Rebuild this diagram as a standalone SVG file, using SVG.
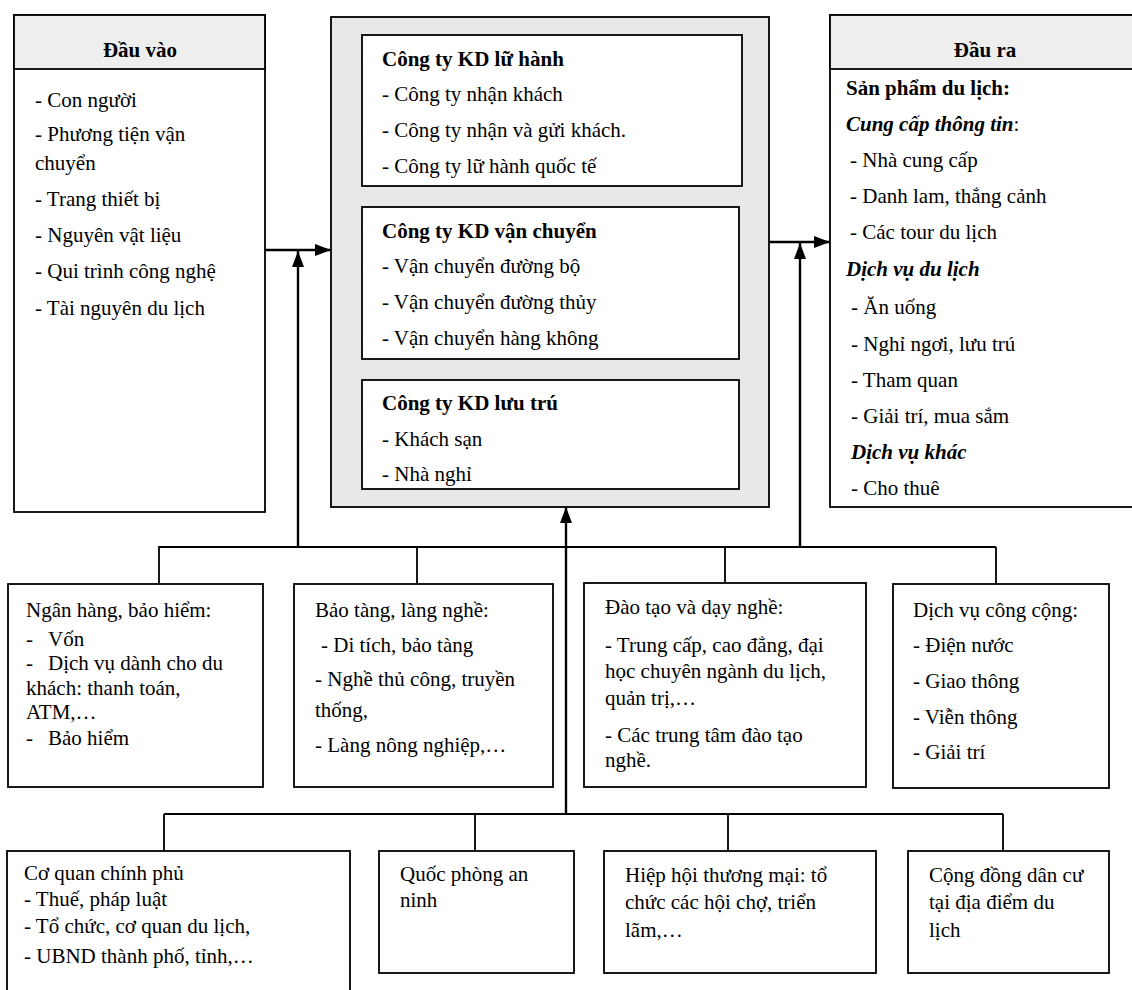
<svg xmlns="http://www.w3.org/2000/svg" width="1132" height="990" viewBox="0 0 1132 990">
<style>
text{font-family:"Liberation Serif","Times New Roman",serif;font-size:21px;fill:#000}
.b{font-weight:bold}
.bi{font-weight:bold;font-style:italic}
.c{text-anchor:middle}
.box{fill:#fff;stroke:#000;stroke-width:1.8}
.hdr{fill:#eeeeee;stroke:#000;stroke-width:1.8}
.gray{fill:#e8e8e8;stroke:#000;stroke-width:1.8}
.ln{fill:none;stroke:#000;stroke-width:1.8}
.ar{fill:none;stroke:#000;stroke-width:2.4;marker-end:url(#ah)}
</style>
<defs>
<marker id="ah" viewBox="0 0 16 12" refX="16" refY="6" markerWidth="16" markerHeight="12" markerUnits="userSpaceOnUse" orient="auto">
<path d="M0,0 L16,6 L0,12 z" fill="#000"/>
</marker>
</defs>
<rect width="1132" height="990" fill="#fff"/>

<g id="connectors">
<path class="ln" d="M158,547 H996 M159,547 V584 M417,547 V584 M725,547 V583 M996,547 V584"/>
<path class="ln" d="M164,814 H1003 M164,814 V851 M475,814 V851 M728,814 V851 M1003,814 V851"/>
<path class="ar" d="M265,250 H331"/>
<path class="ar" d="M298,547 V251"/>
<path class="ar" d="M769,242 H830"/>
<path class="ar" d="M800,547 V243"/>
<path class="ar" d="M566,814 V507"/>
</g>

<g id="dau-vao">
<rect class="box" x="14" y="15" width="251" height="497"/>
<rect class="hdr" x="14" y="15" width="251" height="54"/>
<text class="b c" x="140" y="57">Đầu vào</text>
<text x="35" y="107">- Con người</text>
<text x="35" y="141">- Phương tiện vận</text>
<text x="35" y="170">chuyển</text>
<text x="35" y="206">- Trang thiết bị</text>
<text x="35" y="242">- Nguyên vật liệu</text>
<text x="35" y="278">- Qui trình công nghệ</text>
<text x="35" y="315">- Tài nguyên du lịch</text>
</g>

<g id="trung-tam">
<rect class="gray" x="331" y="17" width="438" height="490"/>
</g>

<g id="kd-lu-hanh">
<rect class="box" x="362" y="35" width="380" height="151"/>
<text class="b" x="382" y="66">Công ty KD lữ hành</text>
<text x="382" y="101">- Công ty nhận khách</text>
<text x="382" y="137">- Công ty nhận và gửi khách.</text>
<text x="382" y="173">- Công ty lữ hành quốc tế</text>
</g>

<g id="kd-van-chuyen">
<rect class="box" x="362" y="207" width="377" height="152"/>
<text class="b" x="382" y="238">Công ty KD vận chuyển</text>
<text x="382" y="273">- Vận chuyển đường bộ</text>
<text x="382" y="309">- Vận chuyển đường thủy</text>
<text x="382" y="345">- Vận chuyển hàng không</text>
</g>

<g id="kd-luu-tru">
<rect class="box" x="362" y="380" width="377" height="109"/>
<text class="b" x="382" y="410">Công ty KD lưu trú</text>
<text x="382" y="446">- Khách sạn</text>
<text x="382" y="481">- Nhà nghỉ</text>
</g>

<g id="dau-ra">
<rect class="box" x="830" y="15" width="312" height="492"/>
<rect class="hdr" x="830" y="15" width="312" height="54"/>
<text class="b c" x="985" y="57">Đầu ra</text>
<text class="b" x="846" y="95">Sản phẩm du lịch:</text>
<text x="846" y="131"><tspan class="bi">Cung cấp thông tin</tspan>:</text>
<text x="850" y="167">- Nhà cung cấp</text>
<text x="850" y="203">- Danh lam, thắng cảnh</text>
<text x="850" y="239">- Các tour du lịch</text>
<text class="bi" x="846" y="276">Dịch vụ du lịch</text>
<text x="851" y="314">- Ăn uống</text>
<text x="851" y="351">- Nghỉ ngơi, lưu trú</text>
<text x="851" y="387">- Tham quan</text>
<text x="851" y="423">- Giải trí, mua sắm</text>
<text class="bi" x="851" y="459">Dịch vụ khác</text>
<text x="851" y="495">- Cho thuê</text>
</g>

<g id="ngan-hang">
<rect class="box" x="8" y="584" width="255" height="203"/>
<text x="26" y="617">Ngân hàng, bảo hiểm:</text>
<text x="26" y="646">-</text><text x="48" y="646">Vốn</text>
<text x="26" y="670">-</text><text x="48" y="670">Dịch vụ dành cho du</text>
<text x="26" y="695">khách: thanh toán,</text>
<text x="26" y="719">ATM,…</text>
<text x="26" y="745">-</text><text x="48" y="745">Bảo hiểm</text>
</g>

<g id="bao-tang">
<rect class="box" x="294" y="584" width="259" height="203"/>
<text x="315" y="617">Bảo tàng, làng nghề:</text>
<text x="321" y="652">- Di tích, bảo tàng</text>
<text x="315" y="686">- Nghề thủ công, truyền</text>
<text x="315" y="717">thống,</text>
<text x="315" y="752">- Làng nông nghiệp,…</text>
</g>

<g id="dao-tao">
<rect class="box" x="584" y="583" width="282" height="204"/>
<text x="605" y="614">Đào tạo và dạy nghề:</text>
<text x="605" y="652">- Trung cấp, cao đẳng, đại</text>
<text x="605" y="678">học chuyên ngành du lịch,</text>
<text x="605" y="705">quản trị,…</text>
<text x="605" y="742">- Các trung tâm đào tạo</text>
<text x="605" y="767">nghề.</text>
</g>

<g id="dich-vu-cong-cong">
<rect class="box" x="893" y="584" width="216" height="204"/>
<text x="913" y="617">Dịch vụ công cộng:</text>
<text x="913" y="652">- Điện nước</text>
<text x="913" y="688">- Giao thông</text>
<text x="913" y="724">- Viễn thông</text>
<text x="913" y="759">- Giải trí</text>
</g>

<g id="co-quan-chinh-phu">
<rect class="box" x="7" y="851" width="343" height="160"/>
<text x="24" y="880">Cơ quan chính phủ</text>
<text x="24" y="906">- Thuế, pháp luật</text>
<text x="24" y="933">- Tổ chức, cơ quan du lịch,</text>
<text x="24" y="963">- UBND thành phố, tỉnh,…</text>
</g>

<g id="quoc-phong">
<rect class="box" x="379" y="851" width="195" height="122"/>
<text x="400" y="881">Quốc phòng an</text>
<text x="400" y="907">ninh</text>
</g>

<g id="hiep-hoi">
<rect class="box" x="604" y="851" width="272" height="122"/>
<text x="625" y="882">Hiệp hội thương mại: tổ</text>
<text x="625" y="909">chức các hội chợ, triển</text>
<text x="625" y="937">lãm,…</text>
</g>

<g id="cong-dong">
<rect class="box" x="908" y="851" width="201" height="122"/>
<text x="929" y="882">Cộng đồng dân cư</text>
<text x="929" y="909">tại địa điểm du</text>
<text x="929" y="937">lịch</text>
</g>
</svg>
